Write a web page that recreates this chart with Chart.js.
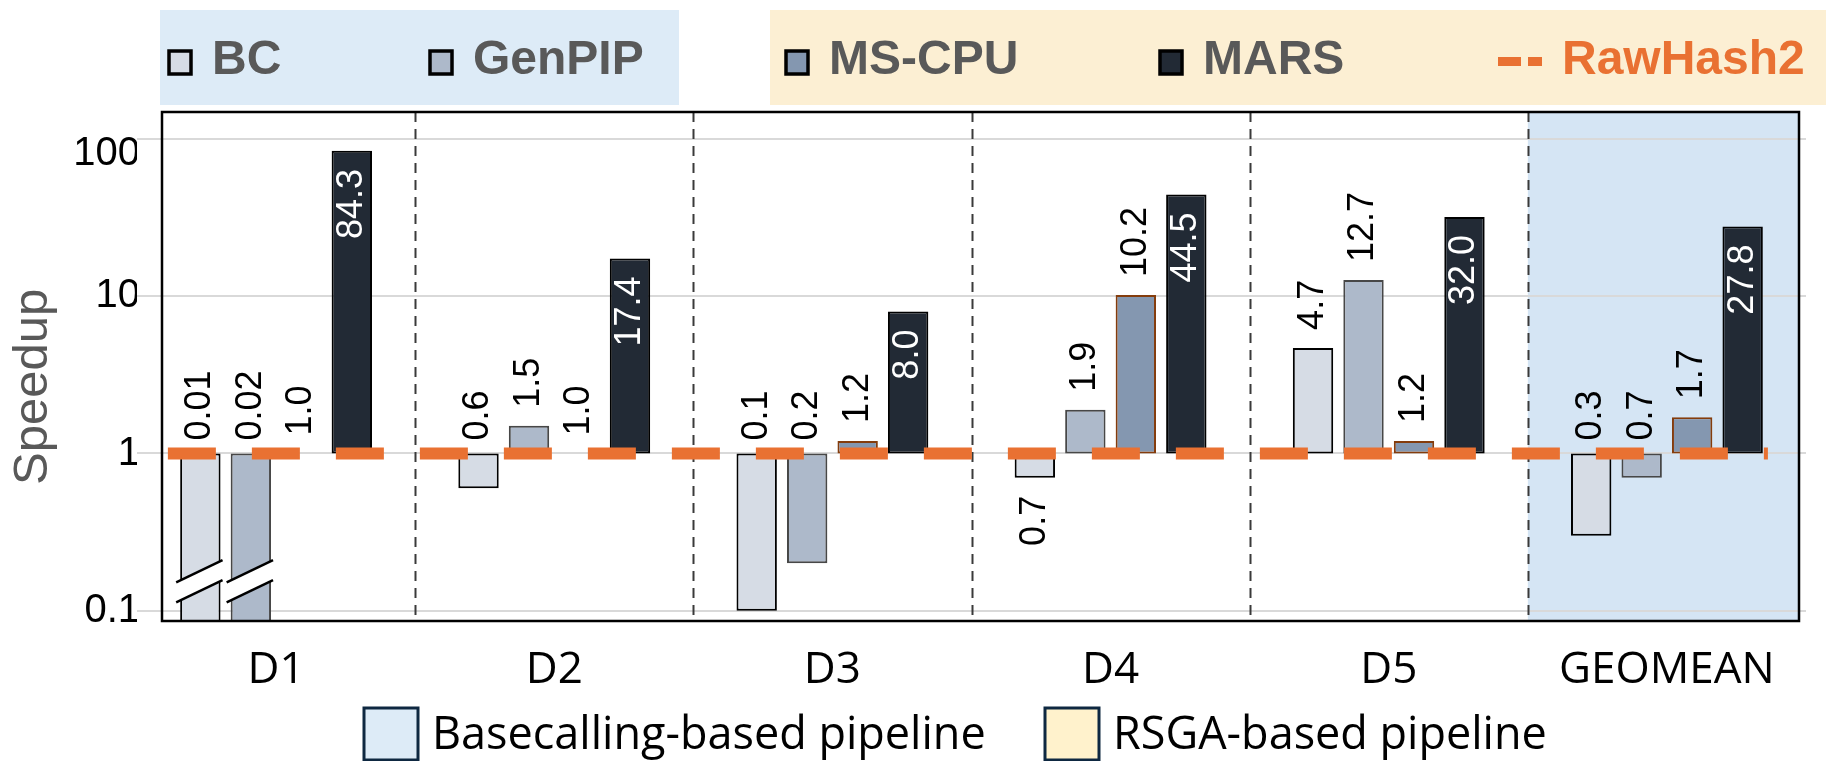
<!DOCTYPE html>
<html>
<head>
<meta charset="utf-8">
<script src="https://cdn.jsdelivr.net/npm/chart.js@4.4.1/dist/chart.umd.min.js"></script>
<style>
  html, body { margin: 0; padding: 0; background: #ffffff; }
  #wrap { width: 1826px; height: 761px; position: relative; }
</style>
</head>
<body>
<div id="wrap"><canvas id="speedup" width="1826" height="761"></canvas></div>
<script>
// ---- data -------------------------------------------------------------
const CATEGORIES = ['D1', 'D2', 'D3', 'D4', 'D5', 'GEOMEAN'];
const BC       = [0.01, 0.6, 0.1, 0.7, 4.7, 0.3];
const GENPIP   = [0.02, 1.5, 0.2, 1.9, 12.7, 0.7];
const MS_CPU   = [1.0, 1.0, 1.2, 10.2, 1.2, 1.7];
const MARS     = [84.3, 17.4, 8.0, 44.5, 32.0, 27.8];
const RAWHASH2 = [1, 1, 1, 1, 1, 1];          // baseline every speedup is relative to
const Y_TICKS  = [0.1, 1, 10, 100];
const PIPELINES = ['Basecalling-based pipeline', 'RSGA-based pipeline'];

// bars start at the baseline of 1 and run up or down from it
const fromBaseline = vals => vals.map(v => [1, v]);

// which BC labels hang below their (downward) bar instead of sitting above the baseline
const BC_LABEL_BELOW = [false, false, false, true, false, false];

// the RawHash2 reference line runs a little past the first and last group
// (in category units on the x axis)
const RAWHASH2_SPAN = [-0.389, 5.363];
const rawHashPoints = RAWHASH2.map((v, i) => ({
  x: RAWHASH2_SPAN[0] + i * (RAWHASH2_SPAN[1] - RAWHASH2_SPAN[0]) / (RAWHASH2.length - 1),
  y: v
}));

// ---- styling ---------------------------------------------------------
const ORANGE = '#E97132';
const GREY_TEXT = '#595959';
const BLUE_PANEL = '#DDEBF7';
const GEO_PANEL = '#D5E5F4';
const YELLOW_PANEL = '#FCEFD3';
const BASELINE = 1;
const AXIS_BREAK_AT = 0.155;      // where bars that leave the axis get their break mark

// panel backgrounds, group separators, frame and the two legends
const framePlugin = {
  id: 'frame',
  beforeDraw(chart) {
    const { ctx, chartArea: a, scales: { x } } = chart;
    const boxRight = a.right - 7;
    ctx.save();
    // top legend panels
    ctx.fillStyle = BLUE_PANEL;
    ctx.fillRect(160, 10, 519, 95);
    ctx.fillStyle = YELLOW_PANEL;
    ctx.fillRect(770, 10, 1056, 95);
    // GEOMEAN column background
    const geoLeft = x.getPixelForValue(CATEGORIES.length - 1.5);
    ctx.fillStyle = GEO_PANEL;
    ctx.fillRect(geoLeft, a.top, boxRight - geoLeft, a.bottom - a.top);
    ctx.restore();
  },
  beforeDatasetsDraw(chart) {
    const { ctx, chartArea: a, scales: { x } } = chart;
    ctx.save();
    ctx.strokeStyle = '#3A3A3A';
    ctx.lineWidth = 2;
    ctx.setLineDash([10, 7]);
    for (let i = 0; i < CATEGORIES.length - 1; i++) {
      const px = Math.round(x.getPixelForValue(i + 0.5)) + 0.5;
      ctx.beginPath();
      ctx.moveTo(px, a.top);
      ctx.lineTo(px, a.bottom);
      ctx.stroke();
    }
    ctx.restore();
  },
  afterDatasetsDraw(chart) {
    const { ctx, chartArea: a } = chart;
    ctx.save();
    ctx.strokeStyle = '#000000';
    ctx.lineWidth = 2.5;
    ctx.strokeRect(a.left + 25, a.top, (a.right - 7) - (a.left + 25), a.bottom - a.top);
    ctx.restore();
  },
  afterDraw(chart) {
    const { ctx } = chart;
    const ds = chart.data.datasets;
    ctx.save();
    // series legend along the top
    const markerX = [169, 430, 786, 1160, 1498];
    ctx.font = 'bold 48px "Liberation Sans", Arial, sans-serif';
    ctx.textBaseline = 'middle';
    ctx.textAlign = 'left';
    ds.forEach((d, i) => {
      const mx = markerX[i];
      if (d.type === 'line') {
        ctx.fillStyle = d.borderColor;
        ctx.fillRect(mx, 57, 23, 9);
        ctx.fillRect(mx + 30, 57, 14, 9);
        ctx.fillText(d.label, mx + 64, 61);
      } else {
        ctx.fillStyle = d.backgroundColor;
        ctx.fillRect(mx, 51, 22, 23);
        ctx.strokeStyle = '#000000';
        ctx.lineWidth = 3.5;
        ctx.strokeRect(mx, 51, 22, 23);
        ctx.fillStyle = GREY_TEXT;
        ctx.fillText(d.label, mx + 43, 61);
      }
    });
    // pipeline legend along the bottom
    const pipeFill = [BLUE_PANEL, '#FFF2CC'];
    const pipeX = [364, 1045];
    ctx.font = '45px "Open Sans", sans-serif';
    PIPELINES.forEach((name, i) => {
      ctx.fillStyle = pipeFill[i];
      ctx.fillRect(pipeX[i], 708, 54, 52);
      ctx.strokeStyle = '#0E2841';
      ctx.lineWidth = 3;
      ctx.strokeRect(pipeX[i], 708, 54, 52);
      ctx.fillStyle = '#000000';
      ctx.fillText(name, pipeX[i] + 68, 736);
    });
    ctx.restore();
  }
};

// break marks on bars that run past the bottom of the axis
const breakPlugin = {
  id: 'axisBreaks',
  afterDatasetsDraw(chart) {
    const { ctx, scales: { y } } = chart;
    const yc = y.getPixelForValue(AXIS_BREAK_AT);
    const slope = 21 / 44;
    chart.data.datasets.forEach((d, di) => {
      if (d.type === 'line') return;
      chart.getDatasetMeta(di).data.forEach((bar, i) => {
        if (d.values[i] >= y.min) return;
        const x0 = bar.x - bar.width / 2 - 4;
        const x1 = bar.x + bar.width / 2 + 2;
        const yAt = (px, off) => yc + (bar.x - px) * slope + off;
        ctx.save();
        ctx.fillStyle = '#ffffff';
        ctx.beginPath();
        ctx.moveTo(x0, yAt(x0, -10));
        ctx.lineTo(x1, yAt(x1, -10));
        ctx.lineTo(x1, yAt(x1, 10));
        ctx.lineTo(x0, yAt(x0, 10));
        ctx.closePath();
        ctx.fill();
        ctx.strokeStyle = '#000000';
        ctx.lineWidth = 2.5;
        [-10, 10].forEach(off => {
          ctx.beginPath();
          ctx.moveTo(x0, yAt(x0, off));
          ctx.lineTo(x1, yAt(x1, off));
          ctx.stroke();
        });
        ctx.restore();
      });
    });
  }
};

// rotated value labels on every bar
const labelPlugin = {
  id: 'barLabels',
  afterDatasetsDraw(chart) {
    const { ctx, scales: { y } } = chart;
    const yBase = y.getPixelForValue(BASELINE);
    chart.data.datasets.forEach((d, di) => {
      if (d.type === 'line') return;
      chart.getDatasetMeta(di).data.forEach((bar, i) => {
        const v = d.values[i];
        const text = v < 0.095 ? v.toFixed(2) : v.toFixed(1);
        const yEnd = y.getPixelForValue(v);
        let anchor, align, color = '#000000';
        if (d.labelInside) {
          anchor = yEnd + 18; align = 'right'; color = '#ffffff';
        } else if (v >= BASELINE) {
          anchor = yEnd - 18; align = 'left';
        } else if (d.labelBelow && d.labelBelow[i]) {
          anchor = yEnd + 18; align = 'right';
        } else {
          anchor = yBase - 13; align = 'left';
        }
        ctx.save();
        ctx.translate(bar.x, anchor);
        ctx.rotate(-Math.PI / 2);
        ctx.font = '36px "Liberation Sans", Arial, sans-serif';
        ctx.fillStyle = color;
        ctx.textAlign = align;
        ctx.textBaseline = 'middle';
        ctx.fillText(text, 0, 0);
        ctx.restore();
      });
    });
  }
};

const barStyle = { borderWidth: 2, borderSkipped: false, order: 1,
                   categoryPercentage: 0.726, barPercentage: 0.8 };

new Chart(document.getElementById('speedup'), {
  type: 'bar',
  data: {
    labels: CATEGORIES,
    datasets: [
      { type: 'bar', label: 'BC', values: BC, data: fromBaseline(BC),
        backgroundColor: '#D6DCE5', borderColor: '#000000', labelBelow: BC_LABEL_BELOW, ...barStyle },
      { type: 'bar', label: 'GenPIP', values: GENPIP, data: fromBaseline(GENPIP),
        backgroundColor: '#ADB9CA', borderColor: '#474747', ...barStyle },
      { type: 'bar', label: 'MS-CPU', values: MS_CPU, data: fromBaseline(MS_CPU),
        backgroundColor: '#8497B0', borderColor: '#843C0C', ...barStyle },
      { type: 'bar', label: 'MARS', values: MARS, data: fromBaseline(MARS),
        backgroundColor: '#222A35', borderColor: '#000000', labelInside: true, ...barStyle },
      { type: 'line', label: 'RawHash2', parsing: false, data: rawHashPoints,
        borderColor: ORANGE, backgroundColor: ORANGE, borderWidth: 12,
        borderDash: [48, 36], pointRadius: 0, order: 0 }
    ]
  },
  options: {
    responsive: false,
    animation: false,
    events: [],
    layout: { padding: { top: 112, right: 20, bottom: 0, left: 0 } },
    plugins: { legend: { display: false }, tooltip: { enabled: false } },
    scales: {
      x: {
        type: 'category',
        grid: { display: false, drawTicks: false },
        border: { display: false },
        ticks: { color: '#000000', padding: 23, maxRotation: 0, autoSkip: false,
                 font: { family: '"Open Sans", sans-serif', size: 44 } },
        afterFit(scale) { scale.height = 140; }
      },
      y: {
        type: 'logarithmic',
        position: 'left',
        min: 0.0859,
        max: 149,
        grid: { color: '#D9D9D9', lineWidth: 2, drawTicks: false },
        border: { display: false },
        afterBuildTicks(scale) { scale.ticks = Y_TICKS.map(v => ({ value: v })); },
        ticks: {
          color: '#000000', padding: -3,
          font: { family: '"Liberation Sans", Arial, sans-serif', size: 40, lineHeight: 0.75 },
          // the top label sits just under its grid line
          callback: v => (v === 100 ? ['', '100'] : String(v))
        },
        title: { display: true, text: 'Speedup\u00a0\u00a0\u00a0', color: GREY_TEXT,
                 padding: { top: 4, bottom: 0 },
                 font: { family: '"Liberation Sans", Arial, sans-serif', size: 49 } },
        afterFit(scale) { scale.width = 137; }
      }
    }
  },
  plugins: [framePlugin, breakPlugin, labelPlugin]
});
</script>
</body>
</html>
